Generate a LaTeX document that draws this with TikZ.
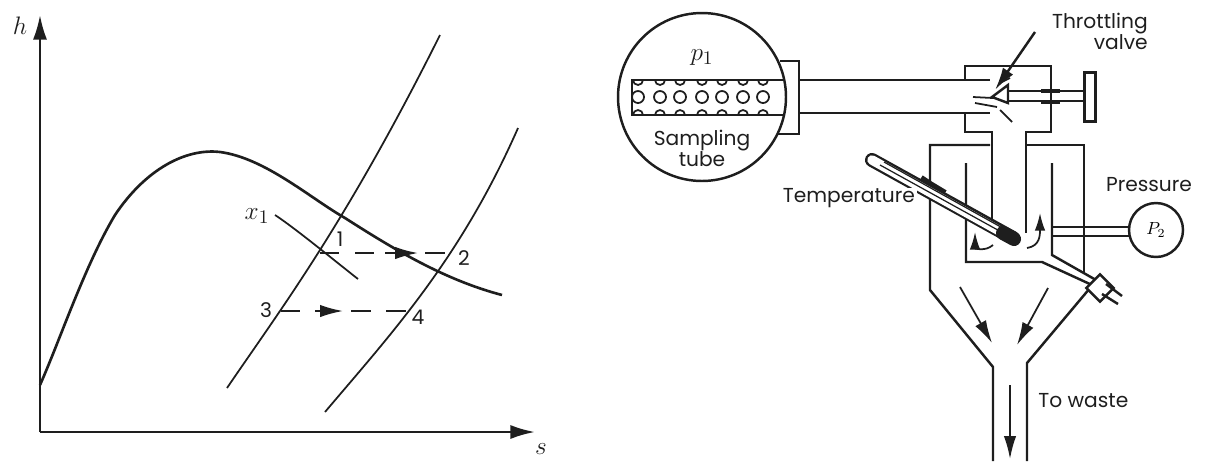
\documentclass[tikz,border=0pt]{standalone}
\usepackage{fontspec}
\setmainfont{Poppins}
\usetikzlibrary{arrows.meta,shapes.geometric}
\definecolor{inkblack}{HTML}{1E1E1E}
\begin{document}
\begin{tikzpicture}[
        x=0.02cm, y=-0.02cm,
        wall/.style={draw=inkblack, line width=1.4pt, line join=miter},
        thin curve/.style={draw=inkblack, line width=1pt},
        dome/.style={draw=inkblack, line width=1.5pt},
        stage/.style={draw=inkblack, line width=1.4pt, dash pattern=on 11pt off 9pt},
        tip/.style={-{Latex[length=13pt,width=7pt]}, draw=inkblack, line width=1pt},
        smalltip/.style={-{Latex[length=10pt,width=6pt]}, draw=inkblack, line width=1pt},
        word/.style={text=inkblack, font=\fontsize{11.5}{13}\selectfont, inner sep=0pt},
        sym/.style={text=inkblack, font=\fontsize{15}{15}\selectfont, inner sep=0pt}
    ]
        \useasboundingbox (0,0) rectangle (1219,461);

        % h-s chart
        \coordinate (origin) at (40,432);
        \coordinate (haxis) at (40,15);
        \coordinate (saxis) at (535,432);
        \draw[wall, -{Latex[length=14pt,width=8pt]}] (origin) -- (haxis);
        \draw[wall, -{Latex[length=14pt,width=8pt]}] (origin) -- (saxis);
        \node[sym] (hlabel) at (20,26) {$h$};
        \node[sym] (slabel) at (541,449) {$s$};

        \draw[dome] (40,385) .. controls (60,340) and (85,265) .. (115,215)
            .. controls (145,170) and (185,148) .. (220,152)
            .. controls (265,158) and (310,198) .. (345,218)
            .. controls (395,250) and (445,280) .. (502,295);
        \draw[thin curve] (275,215) .. controls (295,228) and (340,265) .. (358,279);
        \draw[thin curve] (227,388) .. controls (280,310) and (345,225) .. (440,35);
        \draw[thin curve] (325,412) .. controls (390,335) and (460,260) .. (518,128);

        \coordinate (pta) at (320,253);
        \coordinate (ptb) at (449,253);
        \coordinate (ptc) at (281,311);
        \coordinate (ptd) at (410,311);
        \draw[stage] (pta) -- (ptb);
        \draw[stage] (ptc) -- (ptd);
        \draw[tip] (385,253) -- (418,253);
        \draw[tip] (315,311) -- (343,311);
        \node[sym] (xlabel) at (257,216) {$x_{1}$};
        \node[word] (one) at (340,239) {1};
        \node[word] (two) at (464,258) {2};
        \node[word] (three) at (266,310) {3};
        \node[word] (four) at (418,317) {4};

        % sampling tube
        \node[circle, wall, minimum size=3.36cm, inner sep=0pt] (sample) at (702,97) {};
        \begin{scope}
            \clip (632,80) rectangle (784,115);
            \foreach \px in {638,660,680,702,722,743,763} {
                \draw[thin curve] (\px,97) circle (6);
                \draw[thin curve] (\px,80) circle (5);
                \draw[thin curve] (\px,115) circle (5);
            }
        \end{scope}
        \draw[wall] (784,80) -- (632,80) -- (632,115) -- (784,115);
        \node[sym] (pone) at (702,58) {$p_{1}$};
        \node[word, align=center] (tube) at (702,148) {Sampling\\[-1pt]tube};
        \draw[wall] (780,61) -- (799,61) -- (799,134) -- (778,134);
        \draw[wall] (799,80) -- (990,80);
        \draw[wall] (799,113) -- (990,113);

        % valve body and chamber
        \draw[wall] (965,80) -- (965,66) -- (1051,66) -- (1051,132) -- (1026,132) -- (1026,233);
        \draw[wall] (965,113) -- (965,132) -- (992,132) -- (992,222);
        \draw[wall] (990,145) -- (930,145) -- (930,290) -- (993,367) -- (993,461);
        \draw[wall] (1026,145) -- (1084,145) -- (1084,272);
        \draw[wall] (1090,288) -- (1027,363) -- (1027,461);
        \draw[wall] (966,163) -- (966,262) -- (1042,262) -- (1092,285);
        \draw[wall] (1052,163) -- (1052,255) -- (1096,280);
        \node[diamond, wall, fill=white, minimum size=16pt, inner sep=0pt] (drain) at (1100,288) {};
        \coordinate (drainend) at (1122,296);
        \coordinate (drainlow) at (1118,304);
        \draw[wall] (1106,284) -- (drainend);
        \draw[wall] (1102,294) -- (drainlow);

        % valve cone, stem, handle
        \draw[wall, fill=white] (992,97) -- (1008,85) -- (1008,103) -- cycle;
        \draw[wall] (1008,91) -- (1084,91);
        \draw[wall] (1008,101) -- (1084,101);
        \draw[wall, line width=2.4pt] (1041,91) -- (1060,91);
        \draw[wall, line width=2.4pt] (1041,102) -- (1060,102);
        \node[draw=inkblack, line width=1.4pt, minimum width=0.22cm, minimum height=0.98cm, inner sep=0pt] (handle) at (1090,97) {};
        \draw[thin curve] (973,97) -- (993,98);
        \draw[thin curve] (975,103) -- (997,107);
        \draw[thin curve] (1000,110) -- (1012,122);
        \draw[thin curve] (1000,83) -- (1010,78);
        \node[word, align=right, anchor=north east] (throttle) at (1148,13) {Throttling\\[-1pt]valve};
        \coordinate (seat) at (995,90);
        \draw[tip, line width=1.4pt] (1035,32) -- (seat);

        % thermometer
        \draw[wall, line width=3.5pt] (921,178) -- (930,184) -- (945,193);
        \draw[draw=inkblack, line width=8pt, line cap=round] (872,160) -- (1013,238);
        \draw[draw=white, line width=5.4pt, line cap=round] (872,160) -- (1005,234);
        \draw[draw=inkblack, line width=0.7pt] (880,165) -- (1005,234);
        \draw[draw=inkblack, line width=0.7pt] (884,162) -- (1008,231);
        \draw[draw=inkblack, line width=8pt, line cap=round] (1003,233) -- (1014,239);
        \node[word, anchor=east, fill=white, inner xsep=1pt] (temperature) at (917,198) {Temperature};

        % gauge
        \node[circle, wall, minimum size=1.08cm, inner sep=0pt] (gauge) at (1156,230) {$\fontsize{15}{15}\selectfont P_{2}$};
        \draw[wall] (1053,227) -- (1129,227);
        \draw[wall] (1053,236) -- (1129,236);
        \node[word] (pressure) at (1149,185) {Pressure};

        % flow arrows
        \draw[smalltip] (993,245) .. controls (985,252) and (975,248) .. (975,232);
        \draw[smalltip] (1027,248) .. controls (1040,246) and (1040,235) .. (1040,213);
        \draw[tip] (960,287) -- (992,343);
        \draw[tip] (1048,288) -- (1017,345);
        \draw[tip] (1010,385) -- (1010,459);
        \node[word, anchor=west] (waste) at (1038,401) {To waste};
    \end{tikzpicture}
\end{document}
